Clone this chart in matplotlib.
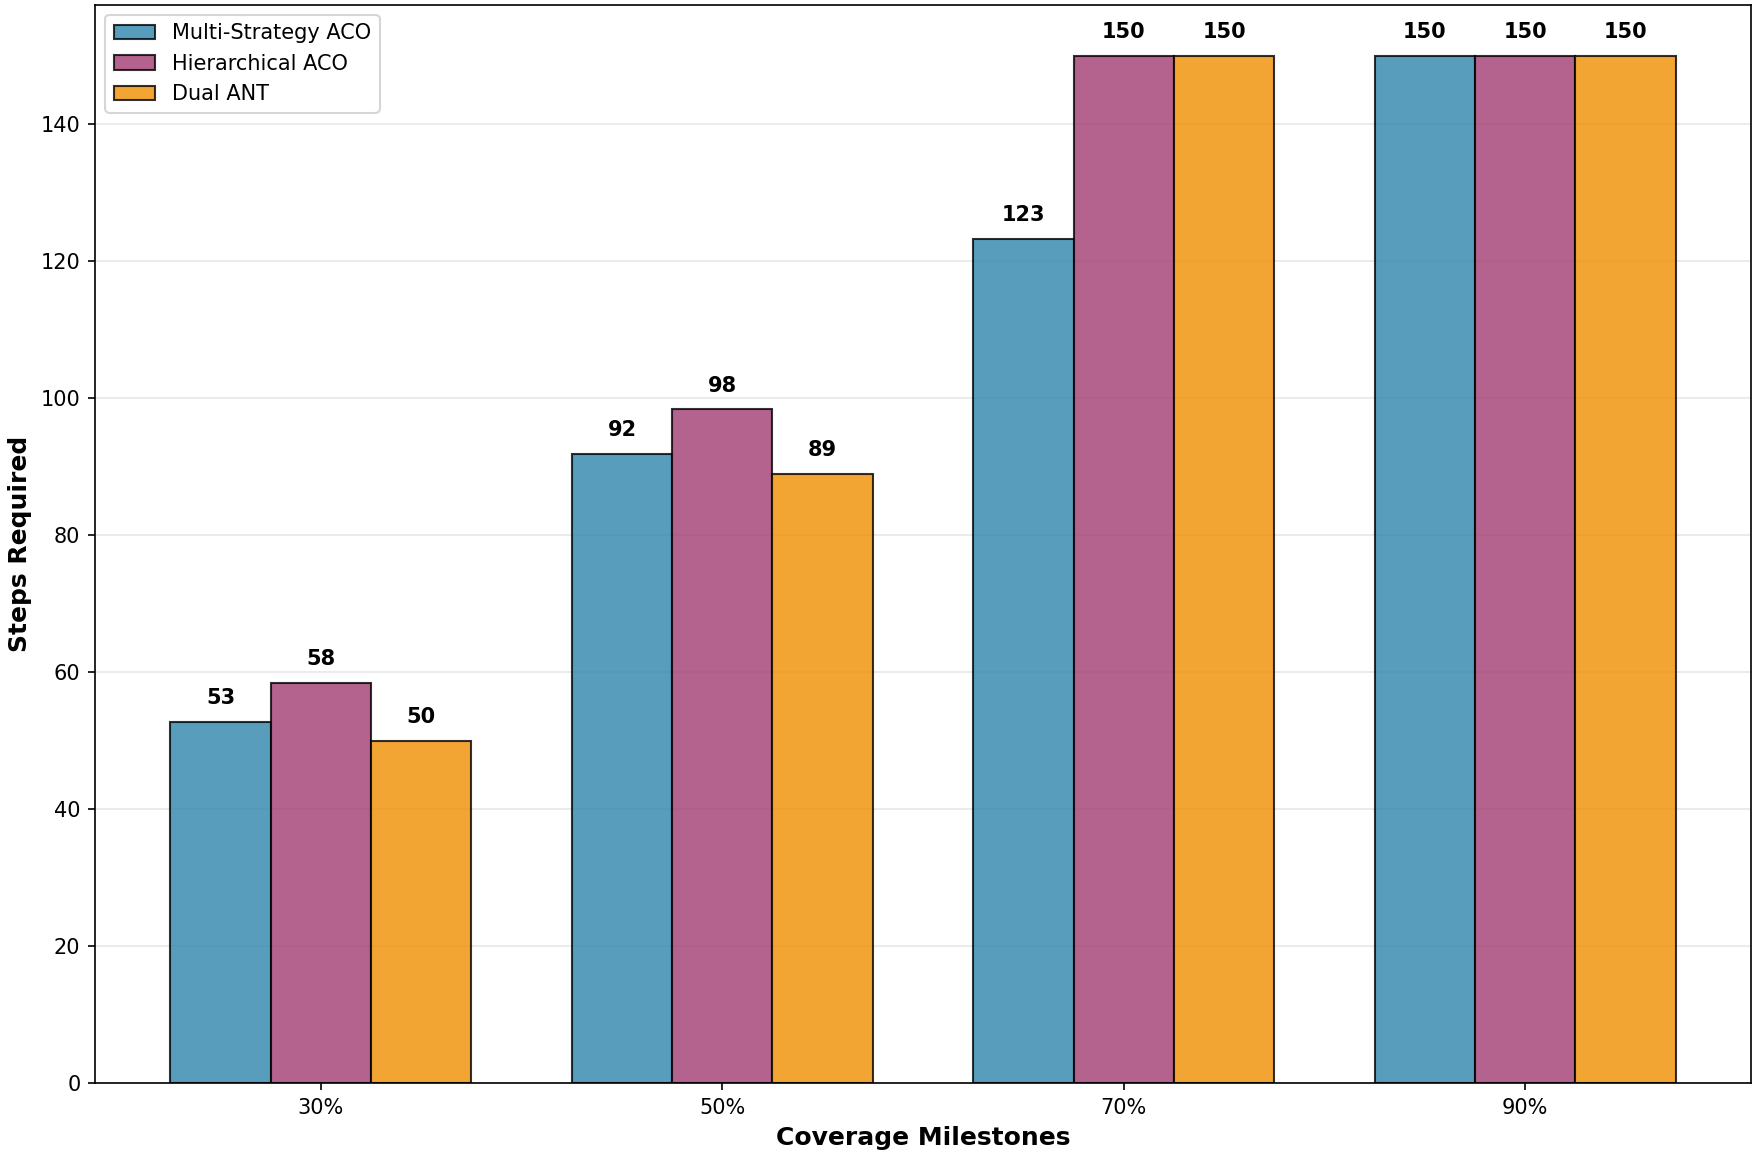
import numpy as np
import matplotlib
matplotlib.use("Agg")
import matplotlib.pyplot as plt

milestones = ["30%", "50%", "70%", "90%"]
multi_strategy = [52.7, 91.9, 123.3, 150]
hierarchical = [58.4, 98.4, 150, 150]
dual_ant = [50.0, 89.0, 150, 150]

series = [("Multi-Strategy ACO", multi_strategy, "#2E86AB"),
          ("Hierarchical ACO", hierarchical, "#A23B72"),
          ("Dual ANT", dual_ant, "#F18F01")]

fig = plt.figure(figsize=(1757 / 150, 1157 / 150), dpi=150)
ax = fig.add_axes([0.0541, 0.064, 0.9425, 0.932])

x = np.arange(len(milestones))
width = 0.25

for i, (name, vals, color) in enumerate(series):
    bars = ax.bar(x + (i - 1) * width, vals, width, label=name, color=color,
                  alpha=0.8, edgecolor="black", linewidth=1)
    for b, v in zip(bars, vals):
        ax.text(b.get_x() + b.get_width() / 2, v + 2, f"{v:.0f}",
                ha="center", va="bottom", fontsize=10, fontweight="bold")

ax.set_xticks(x)
ax.set_xticklabels(milestones)
ax.set_xlabel("Coverage Milestones", fontsize=12, fontweight="bold")
ax.set_ylabel("Steps Required", fontsize=12, fontweight="bold")
ax.set_ylim(0, 157.5)
ax.grid(axis="y", alpha=0.3)
ax.set_axisbelow(True)
ax.legend(loc="upper left", fontsize=10)

fig.savefig("out.png", dpi=150)
